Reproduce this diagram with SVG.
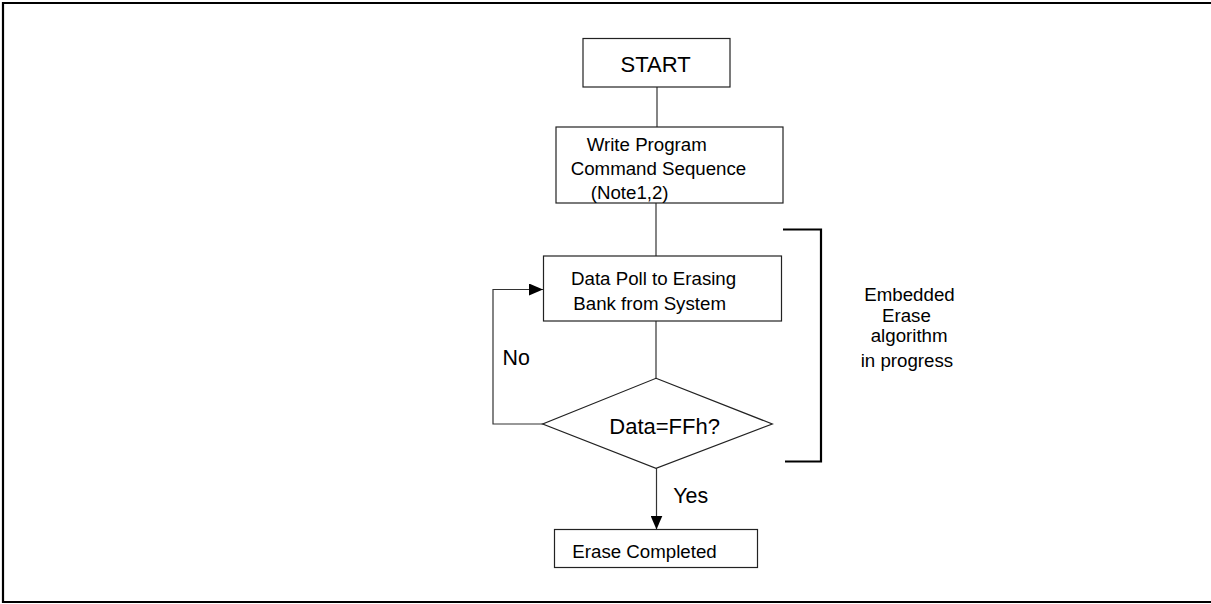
<svg xmlns="http://www.w3.org/2000/svg" width="1211" height="604" viewBox="0 0 1211 604">
  <defs>
    <marker id="arrow" markerWidth="14" markerHeight="12" refX="14" refY="6" orient="auto" markerUnits="userSpaceOnUse">
      <path d="M0,0 L14,6 L0,12 Z" fill="#000"/>
    </marker>
    <style>
      .box { fill: #fff; stroke: #222; stroke-width: 1.2; }
      .link { fill: none; stroke: #333; stroke-width: 1.2; }
      .frame { fill: none; stroke: #000; stroke-width: 2.2; }
      text { font-family: "Liberation Sans", Arial, sans-serif; font-size: 18.7px; fill: #000; }
      .big { font-size: 22px; }
      .lbl { font-size: 21.4px; }
    </style>
  </defs>

  <!-- page frame -->
  <path class="frame" d="M1212,3 H3 V602 H1212"/>

  <!-- connectors -->
  <g id="connectors">
    <line class="link" x1="657" y1="87" x2="657" y2="127"/>
    <line class="link" x1="656" y1="203" x2="656" y2="256"/>
    <line class="link" x1="656" y1="321" x2="656" y2="378"/>
    <path class="link" d="M543,424 H493 V289.5 H543" marker-end="url(#arrow)"/>
    <line class="link" x1="656.5" y1="468" x2="656.5" y2="529.5" marker-end="url(#arrow)"/>
    <text class="lbl" x="502.5" y="365">No</text>
    <text class="lbl" x="673.3" y="503.3">Yes</text>
  </g>

  <g id="start">
    <rect class="box" x="583" y="38.5" width="147" height="48.5"/>
    <text class="big" x="620.5" y="71.5">START</text>
  </g>

  <g id="write-program">
    <rect class="box" x="556" y="127" width="227" height="76"/>
    <text x="586.7" y="150.7">Write Program</text>
    <text x="570.7" y="175">Command Sequence</text>
    <text x="590.7" y="199">(Note1,2)</text>
  </g>

  <g id="data-poll">
    <rect class="box" x="543.5" y="256" width="238" height="65"/>
    <text x="571" y="285">Data Poll to Erasing</text>
    <text x="573.3" y="310">Bank from System</text>
  </g>

  <g id="decision">
    <polygon class="box" points="656,378.3 772.3,424 656,468.3 542.7,424"/>
    <text class="big" x="609.3" y="434">Data=FFh?</text>
  </g>

  <g id="erase-completed">
    <rect class="box" x="554.5" y="529.5" width="203" height="38"/>
    <text x="572.3" y="557.7">Erase Completed</text>
  </g>

  <g id="embedded-erase">
    <path class="frame" d="M783,229.5 H821 V461.5 H785"/>
    <text x="864.3" y="301">Embedded</text>
    <text x="882" y="322.3">Erase</text>
    <text x="870.7" y="342">algorithm</text>
    <text x="860.7" y="366.7">in progress</text>
  </g>
</svg>
